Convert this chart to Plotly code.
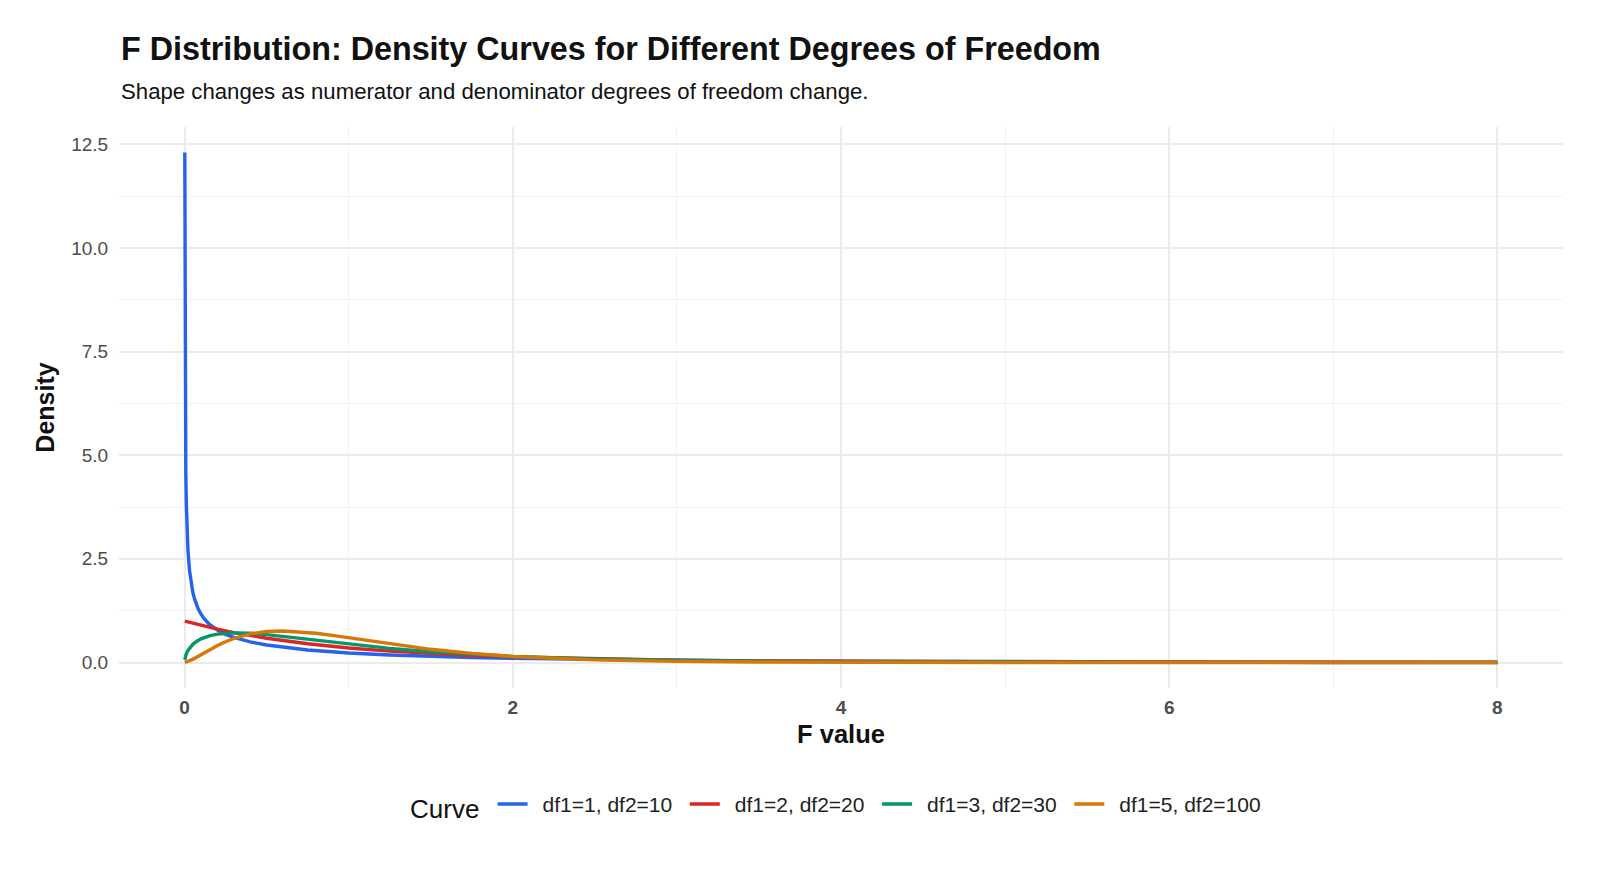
import plotly.graph_objects as go

# ---- data ----
curve_names = ["df1=1, df2=10", "df1=2, df2=20", "df1=3, df2=30", "df1=5, df2=100"]

x_blue = [0.001, 0.002, 0.003, 0.005, 0.007, 0.01, 0.015, 0.02, 0.03, 0.04, 0.05, 0.06, 0.08, 0.1,
          0.12, 0.15, 0.2, 0.25, 0.3, 0.4, 0.5, 0.75, 1, 1.25, 1.5, 1.75, 2, 2.5, 3, 3.5, 4, 5, 6, 7, 8]
y_blue = [12.30, 8.70, 7.10, 5.49, 4.63, 3.87, 3.15, 2.72, 2.21, 1.90, 1.69, 1.54, 1.32, 1.165,
          1.052, 0.926, 0.780, 0.679, 0.604, 0.496, 0.421, 0.302, 0.230, 0.182, 0.147, 0.121, 0.101,
          0.072, 0.053, 0.040, 0.031, 0.019, 0.012, 0.008, 0.005]

x_red = [0.001, 0.05, 0.1, 0.2, 0.3, 0.4, 0.5, 0.75, 1, 1.25, 1.5, 1.75, 2, 2.5, 3, 3.5, 4, 5, 6, 7, 8]
y_red = [0.999, 0.947, 0.896, 0.804, 0.722, 0.650, 0.585, 0.451, 0.351, 0.274, 0.215, 0.170, 0.135,
         0.086, 0.056, 0.037, 0.025, 0.012, 0.006, 0.003, 0.002]

x_green = [0.001, 0.005, 0.01, 0.02, 0.03, 0.05, 0.075, 0.1, 0.15, 0.2, 0.3, 0.4, 0.5, 0.6, 0.75, 1,
           1.25, 1.5, 1.75, 2, 2.5, 3, 4, 5, 6, 7, 8]
y_green = [0.067, 0.149, 0.209, 0.291, 0.350, 0.438, 0.514, 0.570, 0.644, 0.685, 0.715, 0.704, 0.672,
           0.629, 0.558, 0.441, 0.340, 0.259, 0.196, 0.148, 0.085, 0.049, 0.017, 0.006, 0.002, 0.001,
           0.000]

x_orange = [0.001, 0.05, 0.1, 0.15, 0.2, 0.25, 0.3, 0.4, 0.5, 0.6, 0.7, 0.8, 0.9, 1, 1.25, 1.5, 1.75,
            2, 2.5, 3, 3.5, 4, 5, 6, 7, 8]
y_orange = [0.000, 0.076, 0.188, 0.303, 0.409, 0.502, 0.580, 0.690, 0.746, 0.760, 0.742, 0.704, 0.653,
            0.595, 0.447, 0.318, 0.219, 0.146, 0.063, 0.026, 0.011, 0.004, 0.001, 0.000, 0.000, 0.000]

x_ticks = [0, 2, 4, 6, 8]
y_ticks = [0.0, 2.5, 5.0, 7.5, 10.0, 12.5]
y_tick_labels = ["0.0", "2.5", "5.0", "7.5", "10.0", "12.5"]

colors = ["#2563EB", "#DC2626", "#059669", "#D97706"]

FONT = "Liberation Sans, Arial, Helvetica, sans-serif"
NB = "\u00a0"
LEAD = NB + "\u2009"
TRAIL = NB + "\u200a"

fig = go.Figure()
for xs, ys, name, col in zip([x_blue, x_red, x_green, x_orange],
                             [y_blue, y_red, y_green, y_orange], curve_names, colors):
    fig.add_trace(go.Scatter(x=xs, y=ys, mode="lines", name=LEAD + name + TRAIL,
                             line=dict(color=col, width=3.4)))

fig.update_layout(
    width=1600, height=873,
    margin=dict(l=119, r=37, t=127, b=185),
    paper_bgcolor="white", plot_bgcolor="white",
    font=dict(family=FONT, color="#222222"),
    showlegend=True,
    legend=dict(orientation="h", x=0.5, xanchor="center", y=-0.21, yanchor="middle",
                title=dict(text="Curve\u2009", font=dict(size=26, color="#111111")),
                font=dict(size=21, color="#222222"), itemwidth=30, traceorder="normal"),
    annotations=[
        dict(text="<b>F Distribution: Density Curves for Different Degrees of Freedom</b>",
             xref="paper", yref="paper", x=0.0, y=1.139, xanchor="left", yanchor="middle",
             showarrow=False, font=dict(size=32.3, color="#111111")),
        dict(text="Shape changes as numerator and denominator degrees of freedom change.",
             xref="paper", yref="paper", x=0.0, y=1.064, xanchor="left", yanchor="middle",
             showarrow=False, font=dict(size=22.2, color="#111111")),
    ],
)

fig.update_xaxes(
    range=[-0.4, 8.4], tickvals=x_ticks, ticktext=[f"<b>{t}</b>" for t in x_ticks],
    showgrid=True, gridcolor="#EBEBEB", gridwidth=1.6, zeroline=False, showline=False,
    ticks="outside", ticklen=2, tickcolor="rgba(0,0,0,0)",
    tickfont=dict(size=19, color="#4D4D4D"),
    minor=dict(dtick=1, tick0=0, showgrid=True, gridcolor="#F3F3F3", gridwidth=1),
    title=dict(text="<b>F value</b>", font=dict(size=25.5, color="#111111"), standoff=8),
)
fig.update_yaxes(
    range=[-0.615, 12.915], tickvals=y_ticks, ticktext=y_tick_labels,
    showgrid=True, gridcolor="#EBEBEB", gridwidth=1.6, zeroline=False, showline=False,
    ticks="outside", ticklen=6, tickcolor="rgba(0,0,0,0)",
    tickfont=dict(size=19, color="#4D4D4D"),
    minor=dict(dtick=1.25, tick0=0, showgrid=True, gridcolor="#F3F3F3", gridwidth=1),
    title=dict(text="<b>Density</b>", font=dict(size=25, color="#111111"), standoff=9),
)

fig.write_html("out.html")
